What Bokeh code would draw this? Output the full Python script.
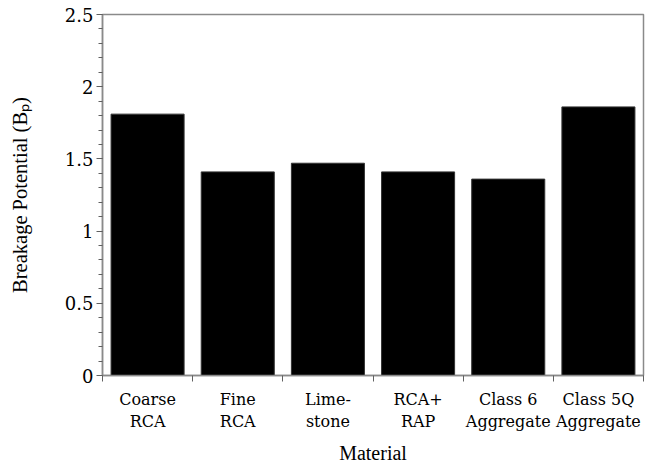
import numpy as np
from bokeh.plotting import figure
from bokeh.models import Range1d, FixedTicker, SingleIntervalTicker
from bokeh.embed import file_html
from bokeh.resources import INLINE

# Breakage potential per material
categories = ["Coarse\nRCA", "Fine\nRCA", "Lime-\nstone", "RCA+\nRAP", "Class 6\nAggregate", "Class 5Q\nAggregate"]
breakage = [1.81, 1.41, 1.47, 1.41, 1.36, 1.86]

TITLE_FONT = "serif"
TICK_FONT = "DejaVu Serif"
AXIS_GREY = "#8a8a8a"
TICK_GREY = "#606060"

n = len(categories)
centers = np.arange(n) + 0.5

p = figure(width=645, height=467, output_backend="svg", toolbar_location=None,
           x_range=Range1d(0, n), y_range=Range1d(0, 2.5),
           min_border_left=102, min_border_right=2, min_border_top=14, min_border_bottom=92)
p.background_fill_color = "white"
p.border_fill_color = "white"
p.outline_line_color = AXIS_GREY
p.outline_line_width = 1.5
p.grid.visible = False

p.vbar(x=centers, top=breakage, width=0.81, bottom=0,
       fill_color="black", line_color="#333333", line_width=1)

# x axis: labels at category centres, tick marks at category boundaries
xax = p.xaxis[0]
xax.ticker = FixedTicker(ticks=list(centers), minor_ticks=list(range(n + 1)))
xax.major_label_overrides = {float(c): lab for c, lab in zip(centers, categories)}
xax.major_tick_out = 0
xax.major_tick_in = 0
xax.minor_tick_out = 6
xax.minor_tick_in = 0
xax.minor_tick_line_color = TICK_GREY
xax.axis_line_color = AXIS_GREY
xax.axis_line_width = 1.5
xax.major_label_standoff = 8
xax.major_label_text_font = TICK_FONT
xax.major_label_text_font_size = "16px"
xax.major_label_text_color = "black"
xax.axis_label = "Material"
xax.axis_label_text_font = TITLE_FONT
xax.axis_label_text_font_size = "20px"
xax.axis_label_text_font_style = "normal"
xax.axis_label_text_color = "black"
xax.axis_label_standoff = 8

# y axis
yax = p.yaxis[0]
yax.ticker = SingleIntervalTicker(interval=0.5, num_minor_ticks=5)
yax.major_tick_out = 6
yax.major_tick_in = 0
yax.minor_tick_out = 4
yax.minor_tick_in = 0
yax.major_tick_line_color = TICK_GREY
yax.minor_tick_line_color = TICK_GREY
yax.axis_line_color = AXIS_GREY
yax.axis_line_width = 1.5
yax.major_label_standoff = 3
yax.major_label_text_font = TICK_FONT
yax.major_label_text_font_size = "18px"
yax.major_label_text_color = "black"
yax.axis_label = "Breakage Potential (Bₚ)"
yax.axis_label_text_font = TITLE_FONT
yax.axis_label_text_font_size = "20.5px"
yax.axis_label_text_font_style = "normal"
yax.axis_label_text_color = "black"
yax.axis_label_standoff = 31

open("out.html", "w").write(file_html(p, INLINE))
